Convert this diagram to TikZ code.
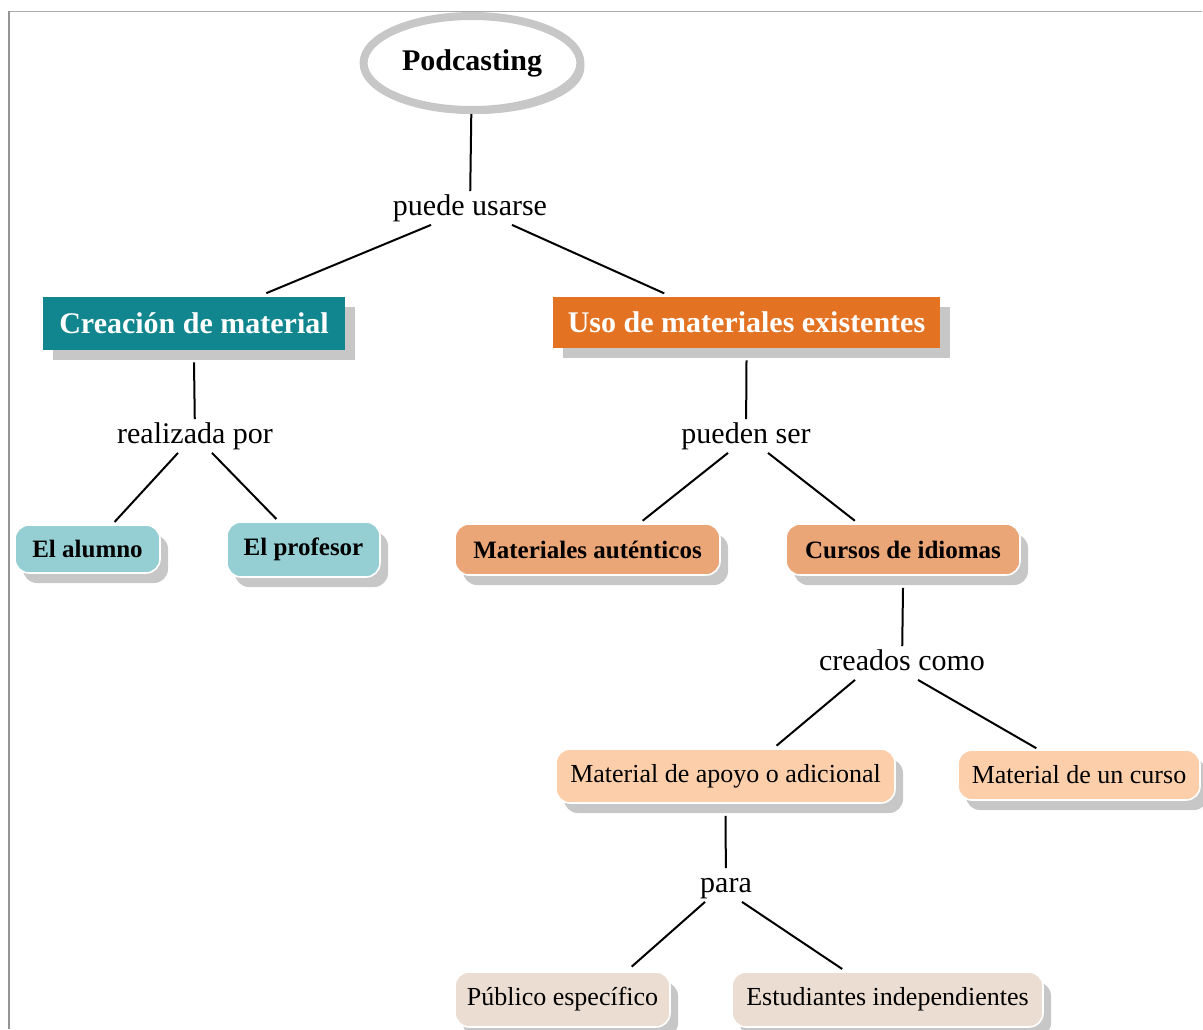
\documentclass[tikz,border=0pt]{standalone}
\usepackage{fontspec}
\setmainfont{Liberation Serif}
\usetikzlibrary{shapes.geometric,shadows}
\definecolor{tealdark}{RGB}{18,134,143}
\definecolor{orangedark}{RGB}{227,114,34}
\definecolor{tealpale}{RGB}{149,207,212}
\definecolor{orangemid}{RGB}{235,166,120}
\definecolor{peach}{RGB}{252,206,170}
\definecolor{beige}{RGB}{236,221,210}
\begin{document}
\begin{tikzpicture}[x=0.5pt,y=-0.5pt,
    linkword/.style={font=\fontsize{15}{18}\selectfont, inner sep=1pt, text height=11pt, text depth=3.5pt},
    titlebox/.style={rectangle, inner sep=0pt, text=white, font=\fontsize{15}{18}\selectfont\bfseries,
        drop shadow={shadow xshift=5pt, shadow yshift=-5pt, fill=black!22, opacity=1}},
    conceptbox/.style={rectangle, rounded corners=7pt, draw=white, line width=0.8pt, inner sep=0pt,
        drop shadow={shadow xshift=4pt, shadow yshift=-5pt, fill=black!22, opacity=1}},
    every edge/.style={draw, line width=1pt}]
\useasboundingbox (0,0) rectangle (1203,1029);
\clip (0,0) rectangle (1203,1029);

% frame
\draw[black!33, line width=0.5pt] (8,11.5) -- (1202,11.5);
\draw[black!42, line width=1pt] (8.5,11) -- (8.5,1029);

\node[shape=ellipse, draw=black!22, line width=4pt, fill=white, minimum width=105pt, minimum height=47pt,
    font=\fontsize{15}{18}\selectfont\bfseries,
    drop shadow={shadow xshift=2pt, shadow yshift=-2pt, fill=black!22, opacity=1}] (pod) at (472,63) {Podcasting};

\node[linkword] (pu) at (470,208) {puede usarse};

\node[titlebox, fill=tealdark, minimum width=151pt, minimum height=26.5pt] (crea) at (194,323.5) {Creación de material};
\node[titlebox, fill=orangedark, minimum width=193.5pt, minimum height=25.5pt] (uso) at (746.5,322.5) {Uso de materiales existentes};

\node[linkword] (rp) at (195,436) {realizada por};
\node[linkword] (ps) at (746,436) {pueden ser};

\node[conceptbox, fill=tealpale, minimum width=72.5pt, minimum height=24pt, font=\fontsize{12.5}{15}\selectfont\bfseries] (alumno) at (87.5,549) {El alumno};
\node[conceptbox, fill=tealpale, minimum width=76.5pt, minimum height=27.5pt, font=\fontsize{12.5}{15}\selectfont\bfseries] (profesor) at (303.5,549.5) {El profesor};
\node[conceptbox, fill=orangemid, minimum width=132.5pt, minimum height=25.5pt, font=\fontsize{12.5}{15}\selectfont\bfseries] (autent) at (587.5,549.5) {Materiales auténticos};
\node[conceptbox, fill=orangemid, minimum width=117pt, minimum height=25.5pt, font=\fontsize{12.5}{15}\selectfont\bfseries] (cursos) at (903,549.5) {Cursos de idiomas};

\node[linkword] (cc) at (902,663) {creados como};

\node[conceptbox, fill=peach, minimum width=169.5pt, minimum height=27pt, font=\fontsize{13}{16}\selectfont] (apoyo) at (725.5,776) {Material de apoyo o adicional};
\node[conceptbox, fill=peach, minimum width=121pt, minimum height=25pt, font=\fontsize{13}{16}\selectfont] (curso) at (1079,775) {Material de un curso};

\node[linkword] (para) at (726,885) {para};

\node[conceptbox, fill=beige, minimum width=107.5pt, minimum height=27.5pt, font=\fontsize{13}{16}\selectfont] (publico) at (562.5,999.5) {Público específico};
\node[conceptbox, fill=beige, minimum width=155.5pt, minimum height=27.5pt, font=\fontsize{13}{16}\selectfont] (estud) at (887.5,999.5) {Estudiantes independientes};

\path [-] (pod) edge (pu);
\path [-] ([xshift=-19.5pt]pu.south) edge[shorten >=4.5pt] ([xshift=32pt]crea.north);
\path [-] ([xshift=21pt]pu.south) edge[shorten >=4pt] ([xshift=-37.5pt]uso.north);

\path [-] ([yshift=-6pt]crea.south) edge (rp);
\path [-] ([xshift=-8.5pt]rp.south) edge[shorten >=1.5pt] ([xshift=12.5pt]alumno.north);
\path [-] ([xshift=8.5pt]rp.south) edge[shorten >=1.5pt] ([xshift=-12.5pt]profesor.north);

\path [-] ([yshift=-6pt]uso.south) edge (ps);
\path [-] ([xshift=-9pt]ps.south) edge[shorten >=2pt] ([xshift=26pt]autent.north);
\path [-] ([xshift=11pt]ps.south) edge[shorten >=2pt] ([xshift=-22.5pt]cursos.north);

\path [-] ([yshift=-6pt]cursos.south) edge (cc);
\path [-] ([xshift=-23.5pt]cc.south) edge[shorten >=2pt] ([xshift=24pt]apoyo.north);
\path [-] ([xshift=8pt]cc.south) edge[shorten >=1pt] ([xshift=-20.5pt]curso.north);

\path [-] ([yshift=-6pt]apoyo.south) edge (para);
\path [-] ([xshift=-10.5pt]para.south) edge[shorten >=3.5pt] ([xshift=32pt]publico.north);
\path [-] ([xshift=8pt]para.south) edge[shorten >=2pt] ([xshift=-21pt]estud.north);
\end{tikzpicture}
\end{document}
